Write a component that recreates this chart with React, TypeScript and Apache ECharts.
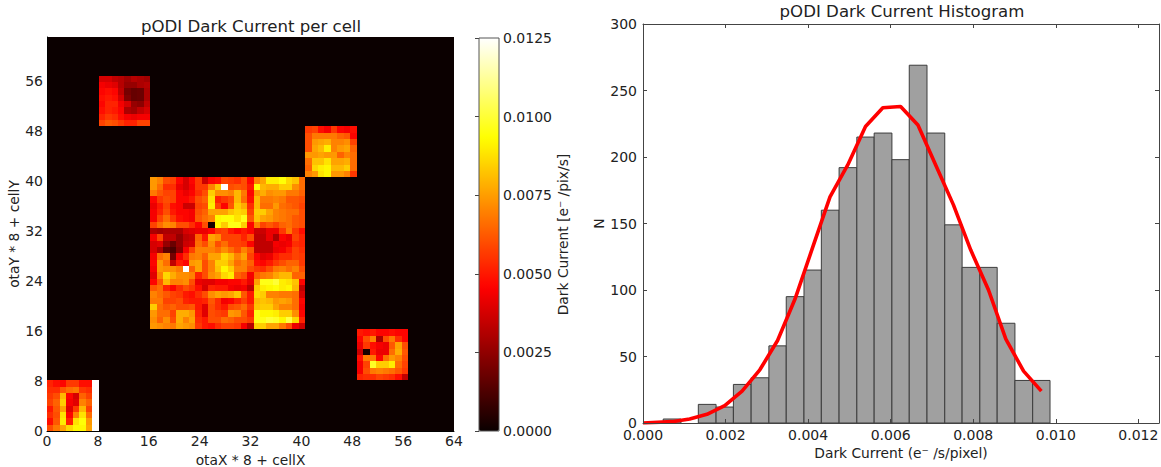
import React, { useEffect, useRef } from "react";
import * as echarts from "echarts";

// All cell values are in units of 1e-4 e-/pix/s, rows listed from the top of each block downward.
const UNIT = 1e-4;
const blockA = [
  [52, 48, 46, 56, 56, 48, 48, 125],
  [54, 54, 62, 66, 68, 56, 54, 125],
  [56, 60, 80, 46, 38, 64, 58, 125],
  [58, 64, 84, 44, 40, 70, 64, 125],
  [50, 62, 76, 40, 56, 80, 58, 125],
  [54, 60, 88, 46, 70, 88, 66, 125],
  [48, 62, 90, 52, 88, 94, 74, 125],
  [60, 68, 76, 86, 92, 92, 76, 125],
];
const blockB = [
  [38, 38, 34, 32, 28, 32, 30, 28],
  [44, 42, 40, 32, 26, 26, 30, 32],
  [46, 48, 46, 34, 20, 17, 18, 30],
  [48, 50, 48, 38, 22, 17, 18, 30],
  [46, 52, 52, 44, 38, 26, 24, 34],
  [48, 52, 50, 46, 30, 28, 34, 38],
  [52, 56, 54, 48, 44, 42, 44, 44],
  [58, 62, 60, 56, 52, 52, 58, 58],
];
const blockC = [
  [56, 58, 48, 44, 56, 46, 44, 48],
  [60, 68, 68, 68, 68, 64, 62, 46],
  [60, 74, 76, 78, 70, 70, 72, 58],
  [60, 76, 80, 90, 70, 74, 76, 64],
  [74, 74, 76, 74, 74, 64, 70, 66],
  [66, 82, 82, 88, 76, 76, 78, 66],
  [64, 86, 90, 92, 80, 80, 84, 66],
  [70, 74, 88, 92, 74, 74, 70, 56],
];
const blockD = [
  [50, 48, 50, 46, 46, 48, 46, 46],
  [46, 60, 70, 30, 60, 68, 54, 46],
  [42, 56, 48, 44, 42, 62, 76, 60],
  [36, 2, 50, 42, 42, 66, 78, 62],
  [48, 68, 68, 46, 66, 74, 70, 60],
  [44, 58, 98, 84, 84, 90, 66, 58],
  [44, 60, 68, 70, 68, 66, 62, 56],
  [52, 54, 54, 58, 56, 54, 48, 34],
];
const blockCentral = [
  [74, 70, 60, 58, 46, 38, 46, 56, 36, 46, 48, 58, 56, 54, 60, 46, 70, 76, 90, 90, 94, 86, 82, 66],
  [74, 66, 54, 54, 42, 38, 44, 56, 56, 70, 82, 125, 60, 62, 60, 50, 94, 80, 78, 78, 84, 84, 72, 66],
  [68, 62, 58, 58, 46, 42, 46, 54, 60, 84, 72, 72, 70, 80, 68, 46, 74, 78, 72, 74, 74, 68, 68, 64],
  [46, 56, 60, 58, 46, 46, 50, 60, 64, 88, 52, 56, 60, 80, 66, 48, 80, 68, 68, 70, 68, 62, 62, 60],
  [42, 50, 58, 48, 46, 36, 36, 58, 60, 90, 58, 46, 62, 84, 78, 54, 80, 66, 66, 74, 66, 64, 62, 58],
  [44, 52, 60, 50, 46, 46, 44, 60, 64, 76, 76, 76, 82, 86, 84, 58, 84, 84, 76, 70, 68, 66, 66, 60],
  [44, 58, 66, 56, 48, 46, 44, 62, 66, 70, 92, 94, 94, 88, 96, 62, 82, 76, 74, 70, 68, 66, 62, 60],
  [58, 66, 72, 70, 60, 60, 54, 46, 60, 2, 92, 84, 96, 96, 84, 46, 70, 58, 62, 58, 64, 66, 62, 60],
  [30, 28, 30, 30, 30, 38, 40, 42, 42, 46, 56, 58, 50, 46, 50, 46, 36, 36, 42, 42, 56, 68, 56, 48],
  [44, 58, 34, 34, 26, 34, 36, 64, 50, 76, 72, 58, 58, 58, 52, 60, 34, 34, 42, 30, 46, 42, 58, 52],
  [38, 40, 26, 18, 26, 36, 38, 66, 60, 72, 60, 66, 58, 58, 56, 46, 34, 34, 34, 44, 42, 44, 54, 52],
  [38, 30, 16, 12, 24, 44, 58, 70, 70, 70, 66, 72, 66, 60, 70, 62, 34, 34, 34, 42, 44, 50, 58, 54],
  [44, 66, 70, 20, 44, 54, 68, 70, 64, 76, 76, 86, 80, 70, 76, 58, 46, 40, 42, 50, 54, 54, 58, 56],
  [46, 74, 66, 34, 50, 46, 74, 76, 60, 70, 84, 84, 76, 66, 70, 64, 48, 46, 50, 56, 60, 64, 64, 56],
  [44, 74, 72, 72, 68, 125, 64, 76, 60, 70, 82, 92, 84, 70, 70, 60, 56, 54, 60, 68, 70, 66, 70, 60],
  [40, 70, 86, 78, 72, 72, 70, 52, 60, 72, 76, 86, 90, 64, 60, 44, 64, 68, 70, 76, 80, 80, 64, 64],
  [46, 62, 80, 70, 70, 72, 60, 42, 40, 40, 44, 44, 46, 46, 50, 42, 76, 96, 96, 100, 90, 88, 82, 46],
  [62, 66, 52, 46, 54, 60, 56, 48, 38, 52, 50, 50, 44, 42, 44, 34, 84, 90, 92, 94, 90, 92, 80, 34],
  [70, 66, 62, 58, 56, 50, 48, 54, 60, 72, 76, 74, 76, 82, 62, 50, 86, 84, 70, 70, 68, 68, 66, 38],
  [68, 68, 58, 58, 60, 52, 50, 50, 52, 62, 54, 44, 46, 52, 58, 50, 80, 82, 80, 74, 76, 74, 66, 46],
  [84, 66, 62, 64, 60, 60, 62, 50, 40, 60, 54, 50, 60, 62, 66, 56, 82, 84, 84, 76, 70, 70, 66, 44],
  [74, 66, 66, 58, 78, 78, 74, 52, 40, 60, 58, 56, 74, 72, 62, 52, 96, 92, 92, 90, 84, 84, 72, 46],
  [72, 64, 72, 60, 78, 70, 76, 54, 50, 60, 60, 66, 64, 60, 60, 56, 96, 96, 100, 98, 92, 102, 86, 52],
  [74, 72, 70, 68, 76, 74, 72, 56, 50, 48, 54, 58, 58, 56, 44, 32, 84, 84, 76, 76, 68, 60, 42, 36],
];
// [left cell, bottom cell] of each block
const blockOrigins: [number[][], number, number][] = [
  [blockA, 0, 0],
  [blockB, 8, 48],
  [blockC, 40, 40],
  [blockD, 48, 8],
  [blockCentral, 16, 16],
];

const binEdges = [
  0.00049, 0.00092, 0.00134, 0.00177, 0.00219, 0.00262, 0.00305, 0.00347, 0.0039, 0.00432, 0.00475,
  0.00518, 0.0056, 0.00603, 0.00645, 0.00688, 0.00731, 0.00773, 0.00816, 0.00858, 0.00901, 0.00944, 0.00986,
];
const binCounts = [3, 0, 14, 12, 29, 34, 58, 95, 115, 160, 192, 215, 218, 198, 269, 218, 149, 117, 117, 75, 32, 32];
const curveX = [
  0, 0.0007, 0.00113, 0.00155, 0.00198, 0.0024, 0.00283, 0.00326, 0.00368, 0.00411, 0.00453, 0.00496,
  0.00539, 0.00581, 0.00624, 0.00666, 0.00709, 0.00752, 0.00794, 0.00837, 0.00879, 0.00922, 0.00965,
];
const curveY = [0, 1, 3, 6.5, 13, 24, 40, 62, 93, 132, 170, 194, 223, 237, 238, 224, 194, 164, 130, 100, 63, 39, 24];

const xTicksMax = 64;
const yTicksMax = 63;
const FONT = "DejaVu Sans";
const TEXT = "#222222";

function hot(t: number): string {
  const r = Math.min(1, 0.0416 + (t / 0.365) * 0.9584);
  const g = Math.max(0, Math.min(1, (t - 0.365) / 0.381));
  const b = Math.max(0, Math.min(1, (t - 0.746) / 0.254));
  return `rgb(${Math.round(r * 255)},${Math.round(g * 255)},${Math.round(b * 255)})`;
}
const hotColors = Array.from({ length: 65 }, (_, i) => hot(i / 64));

export default function App() {
  const ref = useRef<HTMLDivElement>(null);
  useEffect(() => {
    document.body.style.margin = "0";
    const chart = echarts.init(ref.current!, undefined, { renderer: "svg" });

    const cells: number[][] = [];
    blockOrigins.forEach(([rows, x0, y0]) => {
      rows.forEach((row, r) => {
        row.forEach((v, c) => {
          cells.push([x0 + c, y0 + rows.length - 1 - r, v * UNIT]);
        });
      });
    });
    const bars = binCounts.map((n, i) => [binEdges[i], binEdges[i + 1], n]);

    const tickLabel = { color: TEXT, fontFamily: FONT, fontSize: 14 };
    const nameStyle = { color: TEXT, fontFamily: FONT, fontSize: 13.8 };
    const spine = { show: true, onZero: false, lineStyle: { color: "#444444", width: 1 } };
    const inTick = { show: true, inside: true, length: 4, lineStyle: { color: "#444444", width: 1 } };

    chart.setOption({
      animation: false,
      backgroundColor: "#ffffff",
      title: [
        {
          text: "pODI Dark Current per cell",
          left: 251,
          top: 18,
          textAlign: "center",
          textStyle: { color: TEXT, fontFamily: FONT, fontSize: 16.6, fontWeight: "normal" },
          padding: 0,
        },
        {
          text: "pODI Dark Current Histogram",
          left: 902,
          top: 3,
          textAlign: "center",
          textStyle: { color: TEXT, fontFamily: FONT, fontSize: 16.6, fontWeight: "normal" },
          padding: 0,
        },
      ],
      grid: [
        { left: 47, top: 37, width: 407, height: 394, backgroundColor: hot(0), show: true, borderWidth: 0, outerBoundsMode: "none" },
        { left: 479, top: 38, width: 20, height: 393, show: false, outerBoundsMode: "none" },
        { left: 643, top: 24, width: 516, height: 399, show: false, outerBoundsMode: "none" },
      ],
      xAxis: [
        {
          type: "value", gridIndex: 0, min: 0, max: xTicksMax, interval: 8,
          axisLine: { ...spine, lineStyle: { color: "#000", width: 1 } }, axisTick: { show: false },
          splitLine: { show: false },
          axisLabel: { ...tickLabel, margin: 3 },
          name: "otaX * 8 + cellX", nameLocation: "middle", nameGap: 20, nameTextStyle: nameStyle,
        },
        { type: "value", gridIndex: 0, min: 0, max: 63.07, show: false, splitLine: { show: false } },
        { type: "value", gridIndex: 1, min: 0, max: 1, show: false, splitLine: { show: false } },
        {
          type: "value", gridIndex: 2, min: 0, max: 0.0125, interval: 0.002, position: "bottom", z: 6,
          axisLine: spine, axisTick: inTick, splitLine: { show: false },
          axisLabel: { ...tickLabel, margin: 6, lineHeight: 11, formatter: (v: number) => v.toFixed(3), showMaxLabel: false },
          name: "Dark Current (e⁻ /s/pixel)", nameLocation: "middle", nameGap: 23, nameTextStyle: nameStyle,
        },
        {
          type: "value", gridIndex: 2, min: 0, max: 0.0125, interval: 0.002, position: "top", z: 6,
          axisLine: spine, axisTick: inTick, axisLabel: { show: false }, splitLine: { show: false },
        },
      ],
      yAxis: [
        {
          type: "value", gridIndex: 0, min: 0, max: yTicksMax, interval: 8,
          axisLine: { ...spine, lineStyle: { color: "#000", width: 1 } }, axisTick: { show: false },
          splitLine: { show: false },
          axisLabel: { ...tickLabel, margin: 4, showMaxLabel: false },
          name: "otaY * 8 + cellY", nameLocation: "middle", nameGap: 24, nameTextStyle: nameStyle,
        },
        { type: "value", gridIndex: 0, min: 0, max: 62.1, show: false, splitLine: { show: false } },
        {
          type: "value", gridIndex: 1, min: 0, max: 0.0125, interval: 0.0025, position: "right", z: 8,
          axisLine: { show: false }, axisTick: inTick, splitLine: { show: false },
          axisLabel: { ...tickLabel, margin: 4, formatter: (v: number) => v.toFixed(4) },
          name: "Dark Current [e⁻ /pix/s]", nameLocation: "middle", nameGap: 57, nameRotate: 90, nameTextStyle: nameStyle,
        },
        {
          type: "value", gridIndex: 2, min: 0, max: 300, interval: 50, position: "left", z: 6,
          axisLine: spine, axisTick: inTick, splitLine: { show: false },
          axisLabel: { ...tickLabel, margin: 6, lineHeight: 11 },
          name: "N", nameLocation: "middle", nameGap: 34, nameTextStyle: nameStyle,
        },
        {
          type: "value", gridIndex: 2, min: 0, max: 300, interval: 50, position: "right", z: 6,
          axisLine: spine, axisTick: inTick, axisLabel: { show: false }, splitLine: { show: false },
        },
      ],
      visualMap: [
        {
          type: "continuous", seriesIndex: 0, dimension: 2, min: 0, max: 0.0125,
          left: 479, top: 38, padding: 0, itemWidth: 20, itemHeight: 393,
          showLabel: false, text: null, calculable: false, realtime: false, hoverLink: false,
          inRange: { color: hotColors }, outOfRange: { color: hotColors },
          borderWidth: 0,
        },
      ],
      series: [
        {
          type: "custom", coordinateSystem: "cartesian2d", xAxisIndex: 1, yAxisIndex: 1,
          data: cells, encode: { x: 0, y: 1 }, silent: true, clip: true,
          renderItem: (_: any, api: any) => {
            const a = api.coord([api.value(0), api.value(1) + 1]);
            const b = api.coord([api.value(0) + 1, api.value(1)]);
            const x = Math.round(a[0]);
            const y = Math.round(a[1]);
            const fill = api.visual("color");
            return {
              type: "rect",
              shape: { x, y, width: Math.round(b[0]) - x, height: Math.round(b[1]) - y },
              style: { fill },
            };
          },
        },
        {
          type: "custom", coordinateSystem: "cartesian2d", xAxisIndex: 3, yAxisIndex: 3,
          data: bars, encode: { x: [0, 1], y: 2 }, silent: true, z: 2,
          renderItem: (_: any, api: any) => {
            if (api.value(2) <= 0) return { type: "group", children: [] };
            const a = api.coord([api.value(0), api.value(2)]);
            const b = api.coord([api.value(1), 0]);
            return {
              type: "rect",
              shape: { x: a[0], y: a[1], width: b[0] - a[0], height: b[1] - a[1] },
              style: { fill: "#a0a0a0", stroke: "#3c3c3c", lineWidth: 1 },
            };
          },
        },
        {
          type: "line", xAxisIndex: 3, yAxisIndex: 3, z: 3, silent: true,
          data: curveX.map((x, i) => [x, curveY[i]]),
          showSymbol: false, symbol: "none", smooth: false,
          lineStyle: { color: "#ff0000", width: 3.6 },
        },
      ],
      graphic: [
        {
          type: "rect", z: 100, silent: true,
          shape: { x: 479, y: 38, width: 20, height: 393 },
          style: { fill: "none", stroke: "#555555", lineWidth: 1 },
        },
      ],
    });
    return () => chart.dispose();
  }, []);
  return <div ref={ref} style={{ width: 1161, height: 467 }} />;
}
